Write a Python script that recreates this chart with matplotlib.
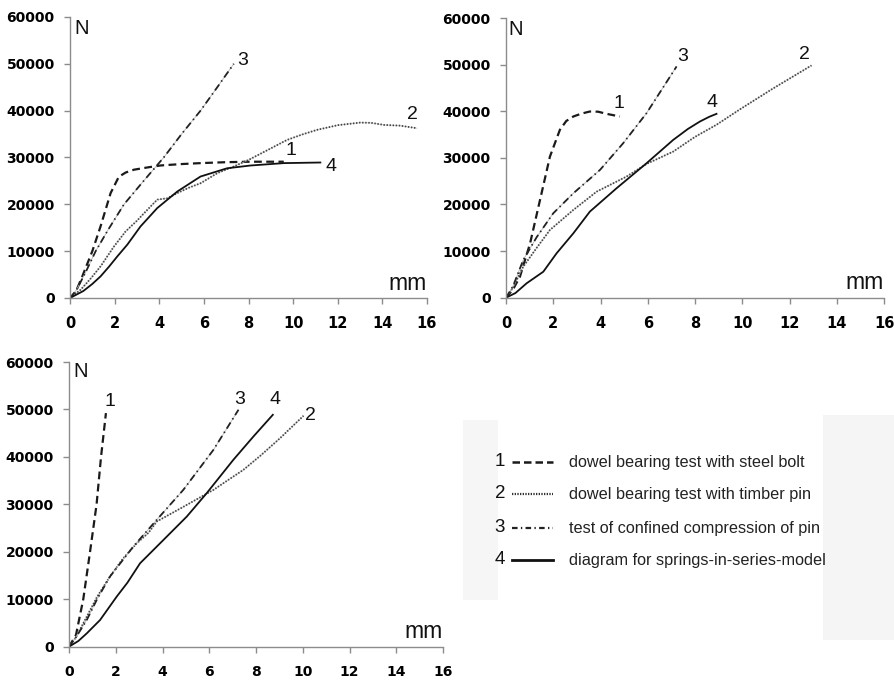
import matplotlib
matplotlib.use("Agg")
import matplotlib.pyplot as plt
from matplotlib.lines import Line2D
from matplotlib.patches import Rectangle

# ---------------- data ----------------
x_ticks = [0, 2, 4, 6, 8, 10, 12, 14, 16]
y_ticks = [0, 10000, 20000, 30000, 40000, 50000, 60000]

# Panel A (top-left)
a1_x = [0, 0.25, 0.55, 1.0, 1.37, 1.82, 2.19, 2.5, 2.87, 3.5, 4.06, 5.0, 5.85, 7.0, 8.09, 9.58]
a1_y = [0, 1200, 4600, 10000, 15300, 22400, 25900, 26800, 27400, 27900, 28300, 28600, 28800, 29000, 29100, 29100]
a2_x = [0, 0.48, 0.9, 1.37, 1.97, 2.49, 3.0, 3.46, 3.91, 4.36, 4.81, 5.3, 5.85, 6.6, 7.3, 8.01, 8.9, 9.73, 10.4, 11.07, 12.0, 13.0, 13.5, 14.06, 14.8, 15.55]
a2_y = [0, 1780, 4000, 6750, 11000, 14200, 16500, 18800, 21000, 21300, 22400, 23500, 24500, 26650, 28000, 29500, 31700, 33760, 34900, 35900, 36900, 37450, 37400, 36960, 36800, 36250]
a3_x = [0, 0.3, 0.7, 1.15, 1.7, 2.42, 3.3, 4.2, 5.0, 5.85, 6.6, 7.34]
a3_y = [0, 1800, 5500, 10000, 14500, 20000, 25000, 30000, 35000, 40000, 45000, 50000]
a4_x = [0, 0.6, 1.0, 1.37, 1.75, 2.12, 2.57, 3.16, 3.91, 4.81, 5.85, 7.04, 8.09, 9.58, 11.22]
a4_y = [0, 1500, 3000, 4620, 6700, 8880, 11400, 15280, 19200, 22740, 25940, 27700, 28290, 28800, 28930]

# Panel B (top-right)
b1_x = [0, 0.3, 0.59, 1.02, 1.44, 1.86, 2.28, 2.55, 2.85, 3.2, 3.55, 3.9, 4.26, 4.82]
b1_y = [0, 1800, 4510, 11670, 20970, 30280, 36000, 37900, 38870, 39500, 39940, 39900, 39440, 38870]
b2_x = [0, 0.3, 0.73, 1.3, 1.86, 2.85, 3.84, 5.1, 5.95, 7.08, 8.0, 8.91, 9.9, 11.31, 12.93]
b2_y = [0, 2200, 6660, 10700, 14530, 18830, 22760, 25980, 28700, 31350, 34500, 37100, 40400, 44900, 49820]
b3_x = [0, 0.3, 0.73, 1.3, 2.0, 2.85, 3.98, 4.96, 5.95, 7.22]
b3_y = [0, 2500, 8090, 13000, 18110, 22400, 27420, 33140, 39590, 49600]
b4_x = [0, 0.4, 0.87, 1.58, 2.14, 2.85, 3.55, 4.68, 5.95, 7.08, 7.7, 8.21, 8.6, 8.91]
b4_y = [0, 1000, 3080, 5580, 9520, 13810, 18470, 23480, 28850, 33860, 36200, 37800, 38800, 39440]

# Panel C (bottom-left)
c1_x = [0, 0.3, 0.61, 0.9, 1.18, 1.37, 1.58]
c1_y = [0, 2500, 10000, 20000, 30000, 40000, 49230]
c2_x = [0, 0.3, 0.76, 1.2, 1.75, 2.3, 2.9, 3.4, 3.75, 4.9, 6.18, 6.8, 7.46, 8.2, 9.03, 10.03]
c2_y = [0, 2000, 6330, 10500, 14770, 18500, 21800, 24000, 26370, 29500, 33050, 35100, 37270, 40300, 43950, 48660]
c3_x = [0, 0.3, 0.76, 1.2, 1.75, 2.75, 3.75, 4.89, 6.18, 7.25]
c3_y = [0, 2000, 5630, 10000, 14770, 21100, 26720, 33050, 41490, 49930]
c4_x = [0, 0.4, 0.76, 1.33, 2.04, 2.5, 3.04, 4.04, 5.04, 5.89, 7.03, 7.89, 8.72]
c4_y = [0, 1200, 2810, 5630, 10550, 13500, 17580, 22500, 27430, 32350, 39380, 44300, 48870]

curve_names = ["1", "2", "3", "4"]
legend_texts = ["dowel bearing test with steel bolt",
                "dowel bearing test with timber pin",
                "test of confined compression of pin",
                "diagram for springs-in-series-model"]

# label positions (data coords) for curve numbers per panel
a_lab = [(9.88, 31500), (15.36, 39100), (7.72, 50800), (11.7, 28070)]
b_lab = [(4.8, 41600), (12.62, 52100), (7.46, 51750), (8.74, 41950)]
c_lab = [(1.77, 51700), (10.31, 48730), (7.28, 52040), (8.82, 52040)]

# ---------------- styling ----------------
SANS = "Liberation Sans"
GRAY = "#8c8c8c"


def draw_series(ax, xs, ys, kind):
    if kind == 0:  # dashed
        ln, = ax.plot(xs, ys, color="#1a1a1a", lw=1.6)
        ln.set_dashes([3.5, 2.0])
    elif kind == 1:  # dotted
        ax.plot(xs, ys, color="#c8c8c8", lw=0.6)
        ln, = ax.plot(xs, ys, color="#444444", lw=1.3)
        ln.set_dashes([0.8, 0.9])
    elif kind == 2:  # dash-dot
        ax.plot(xs, ys, color="#b5b5b5", lw=0.6)
        ln, = ax.plot(xs, ys, color="#222222", lw=1.3)
        ln.set_dashes([4.0, 2.0, 0.8, 2.0])
    else:  # solid
        ax.plot(xs, ys, color="#111111", lw=1.3)


def setup_axes(ax, nx, ny, xfs):
    ax.set_xlim(0, 16)
    ax.set_ylim(0, 60000)
    for s in ("top", "right"):
        ax.spines[s].set_visible(False)
    for s in ("left", "bottom"):
        ax.spines[s].set_color(GRAY)
        ax.spines[s].set_linewidth(1.0)
    ax.set_xticks(x_ticks)
    ax.set_yticks(y_ticks)
    ax.set_xticklabels([str(t) for t in x_ticks],
                       fontdict=dict(family="DejaVu Sans", weight="bold", size=xfs))
    ax.set_yticklabels([str(t) for t in y_ticks],
                       fontdict=dict(family="DejaVu Sans", weight="bold", size=10.0))
    ax.tick_params(axis="x", direction="out", length=4, width=1.0, color=GRAY, pad=9)
    ax.tick_params(axis="y", direction="out", length=4, width=1.0, color=GRAY, pad=7)
    ax.text(nx, ny, "N", transform=ax.transAxes, ha="left", va="center",
            fontsize=14.5, family=SANS, color="#111111")
    ax.text(1.0, 0.012, "mm", transform=ax.transAxes, ha="right", va="bottom",
            fontsize=16.5, family=SANS, color="#111111")


fig = plt.figure(figsize=(8.94, 6.84), dpi=100)
fig.patch.set_facecolor("white")

# faint scan-shadow regions around the legend
fig.add_artist(Rectangle((463 / 894, 1 - 600 / 684), 35 / 894, 180 / 684,
                         transform=fig.transFigure, color="#f6f6f6", lw=0, zorder=0))
fig.add_artist(Rectangle((823 / 894, 1 - 640 / 684), 71 / 894, 225 / 684,
                         transform=fig.transFigure, color="#f5f5f5", lw=0, zorder=0))

panels = [
    ([70 / 894, 1 - 298 / 684, 357 / 894, 281 / 684],
     [(a1_x, a1_y), (a2_x, a2_y), (a3_x, a3_y), (a4_x, a4_y)], a_lab, (0.012, 0.96), 10.5),
    ([506 / 894, 1 - 297.7 / 684, 378 / 894, 279.7 / 684],
     [(b1_x, b1_y), (b2_x, b2_y), (b3_x, b3_y), (b4_x, b4_y)], b_lab, (0.005, 0.96), 10.5),
    ([69 / 894, 1 - 646.7 / 684, 374 / 894, 284.7 / 684],
     [(c1_x, c1_y), (c2_x, c2_y), (c3_x, c3_y), (c4_x, c4_y)], c_lab, (0.012, 0.966), 10.0),
]

for rect, series, labs, npos, xfs in panels:
    ax = fig.add_axes(rect)
    ax.patch.set_alpha(0)
    setup_axes(ax, npos[0], npos[1], xfs)
    for k, (xs, ys) in enumerate(series):
        draw_series(ax, xs, ys, k)
    for k, (lx, ly) in enumerate(labs):
        ax.text(lx, ly, curve_names[k], ha="center", va="center",
                fontsize=14, family=SANS, color="#111111")

# ---------------- legend ----------------
rows_y = [462, 494, 528, 560]
for k, py in enumerate(rows_y):
    fy = 1 - py / 684
    fig.text(505 / 894, fy, curve_names[k], ha="right", va="center",
             fontsize=13.5, family=SANS, color="#111111")
    if k == 0:
        ln = Line2D([512 / 894, 553 / 894], [fy, fy], transform=fig.transFigure,
                    color="#1a1a1a", lw=1.8)
        ln.set_dashes([3.0, 1.6])
    elif k == 1:
        ln = Line2D([512 / 894, 553 / 894], [fy, fy], transform=fig.transFigure,
                    color="#333333", lw=1.6)
        ln.set_dashes([0.6, 0.6])
    elif k == 2:
        ln = Line2D([512 / 894, 553 / 894], [fy, fy], transform=fig.transFigure,
                    color="#222222", lw=1.6)
        ln.set_dashes([2.5, 1.5, 0.6, 1.5])
    else:
        ln = Line2D([512 / 894, 553 / 894], [fy, fy], transform=fig.transFigure,
                    color="#111111", lw=2.0)
    fig.add_artist(ln)
    fig.text(569 / 894, fy, legend_texts[k], ha="left", va="center",
             fontsize=11.7, family=SANS, color="#222222")

fig.savefig("out.png", dpi=100, facecolor="white")
